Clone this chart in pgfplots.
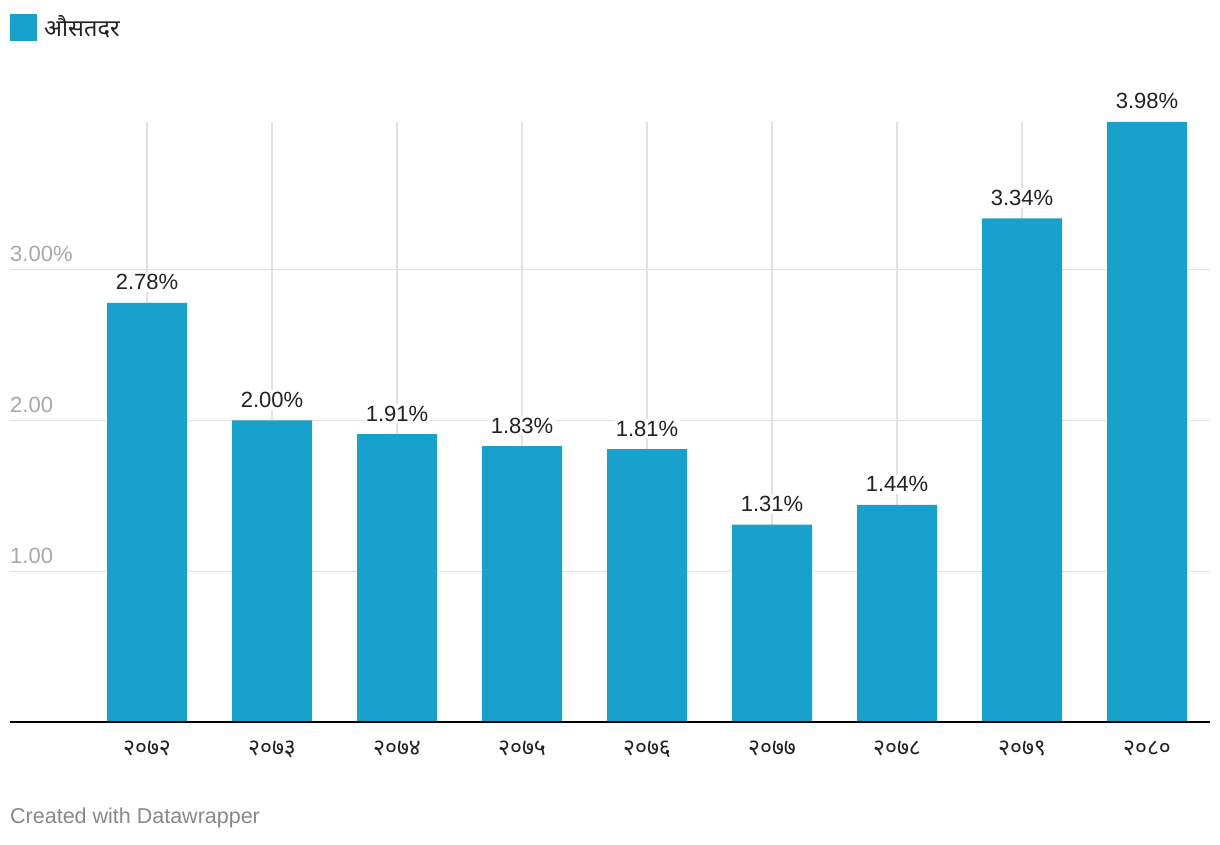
\documentclass[border=0pt]{standalone}
\usepackage{fontspec}
\setmainfont{Liberation Sans}
\newfontfamily\devfont[Script=Devanagari]{Noto Sans}
\usepackage{pgfplots}
\pgfplotsset{compat=1.18}
\definecolor{barblue}{HTML}{18A1CD}
\definecolor{gridgray}{HTML}{E2E2E2}
\definecolor{ticklab}{HTML}{A8A8A8}
\definecolor{valtext}{HTML}{222222}
\definecolor{foot}{HTML}{888888}
\begin{document}
\begin{tikzpicture}
\path[use as bounding box] (0,0) rectangle (1220pt,844pt);
\begin{axis}[
  at={(10pt,122pt)}, anchor=south west,
  scale only axis, width=1200pt, height=600pt,
  xmin=-1.096, xmax=8.504, ymin=0, ymax=3.98,
  axis line style={draw=none},
  major tick length=0pt,
  /pgf/number format/assume math mode=true,
  xtick={0,...,8},
  xticklabels={\devfont २०७२,\devfont २०७३,\devfont २०७४,\devfont २०७५,\devfont २०७६,\devfont २०७७,\devfont २०७८,\devfont २०७९,\devfont २०८०},
  xticklabel style={font=\fontsize{23}{26}\selectfont, text=valtext, anchor=north, yshift=-15pt},
  ytick={1,2,3},
  yticklabels={1.00,2.00,3.00\%},
  yticklabel style={font=\fontsize{22}{26}\selectfont, text=ticklab, anchor=base west, inner sep=0pt, xshift=0pt, yshift=8pt},
  xmajorgrids, ymajorgrids,
  grid style={gridgray, line width=1.2pt},
  clip=false,
]
\addplot[ybar, bar width=80pt, fill=barblue, draw=none,
  nodes near coords={\pgfmathprintnumber[fixed,fixed zerofill,precision=2,assume math mode=true]{\pgfplotspointmeta}\%},
  every node near coord/.append style={font=\fontsize{22}{26}\selectfont, text=valtext, anchor=base, yshift=13pt, fill=white, inner sep=2pt}]
  coordinates {(0,2.78) (1,2.00) (2,1.91) (3,1.83) (4,1.81) (5,1.31) (6,1.44) (7,3.34) (8,3.98)};
\draw[black, line width=1.6pt] (rel axis cs:0,0) -- (rel axis cs:1,0);
\end{axis}
\fill[barblue] (10pt,803pt) rectangle (37pt,830pt);
\node[anchor=west, inner sep=0pt, font=\devfont\fontsize{23.5}{26}\selectfont, text=valtext] at (44pt,817pt) {औसतदर};
\node[anchor=west, inner sep=0pt, font=\fontsize{21.5}{24}\selectfont, text=foot] at (10pt,26pt) {Created with Datawrapper};
\end{tikzpicture}
\end{document}
